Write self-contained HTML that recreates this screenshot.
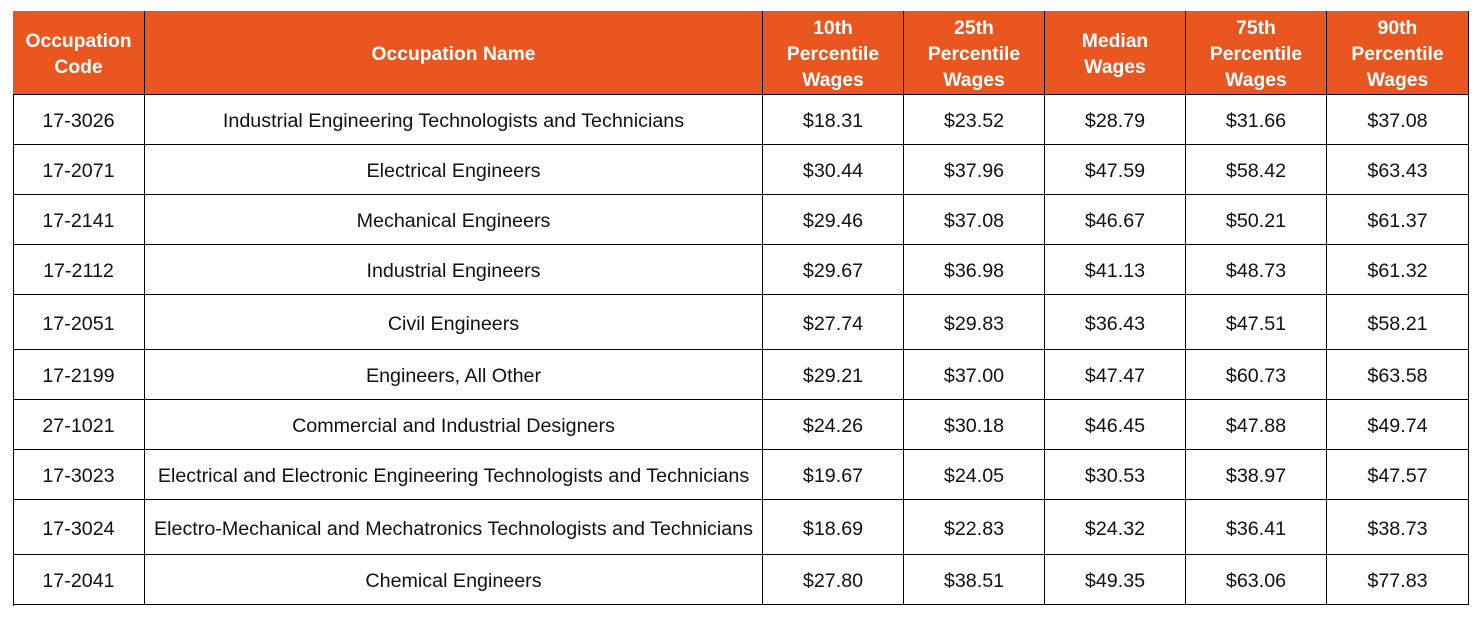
<!DOCTYPE html>
<html><head><style>
body{margin:0;background:#fff;width:1482px;height:617px;overflow:hidden;font-family:"Liberation Sans",Arial,sans-serif}
.c{position:absolute;box-sizing:border-box;display:flex;align-items:center;justify-content:center;text-align:center;font-size:19.7px;color:#111;border-right:1.5px solid #000;border-bottom:1.5px solid #000;padding-top:4px}
.h{background:#E9561F;color:#fff;font-weight:bold;line-height:26px;font-size:19.3px;padding-top:5px}
#t{position:absolute;left:13px;top:11px;width:1456px;height:595px;border-left:1.5px solid #000;border-top:1.5px solid #000;box-sizing:border-box}
</style></head><body>
<div id="t"></div>
<div id="g"></div>
<script>
var xs=[13,145,763,904,1045,1186,1327,1469];
var ys=[11,95,145,195,245,295,350,400,450,500,555,605];
var H=["Occupation<br>Code","Occupation Name","10th<br>Percentile<br>Wages","25th<br>Percentile<br>Wages","Median<br>Wages","75th<br>Percentile<br>Wages","90th<br>Percentile<br>Wages"];
var R=[["17-3026","Industrial Engineering Technologists and Technicians","$18.31","$23.52","$28.79","$31.66","$37.08"],
["17-2071","Electrical Engineers","$30.44","$37.96","$47.59","$58.42","$63.43"],
["17-2141","Mechanical Engineers","$29.46","$37.08","$46.67","$50.21","$61.37"],
["17-2112","Industrial Engineers","$29.67","$36.98","$41.13","$48.73","$61.32"],
["17-2051","Civil Engineers","$27.74","$29.83","$36.43","$47.51","$58.21"],
["17-2199","Engineers, All Other","$29.21","$37.00","$47.47","$60.73","$63.58"],
["27-1021","Commercial and Industrial Designers","$24.26","$30.18","$46.45","$47.88","$49.74"],
["17-3023","Electrical and Electronic Engineering Technologists and Technicians","$19.67","$24.05","$30.53","$38.97","$47.57"],
["17-3024","Electro-Mechanical and Mechatronics Technologists and Technicians","$18.69","$22.83","$24.32","$36.41","$38.73"],
["17-2041","Chemical Engineers","$27.80","$38.51","$49.35","$63.06","$77.83"]];
var s="";
function cell(r,c,txt,cls){s+='<div class="c '+cls+'" style="left:'+xs[c]+'px;top:'+ys[r]+'px;width:'+(xs[c+1]-xs[c])+'px;height:'+(ys[r+1]-ys[r])+'px">'+txt+'</div>';}
H.forEach(function(t,c){cell(0,c,t,"h")});
R.forEach(function(row,r){row.forEach(function(t,c){cell(r+1,c,t,"")})});
document.getElementById("g").innerHTML=s;
</script>
</body></html>
